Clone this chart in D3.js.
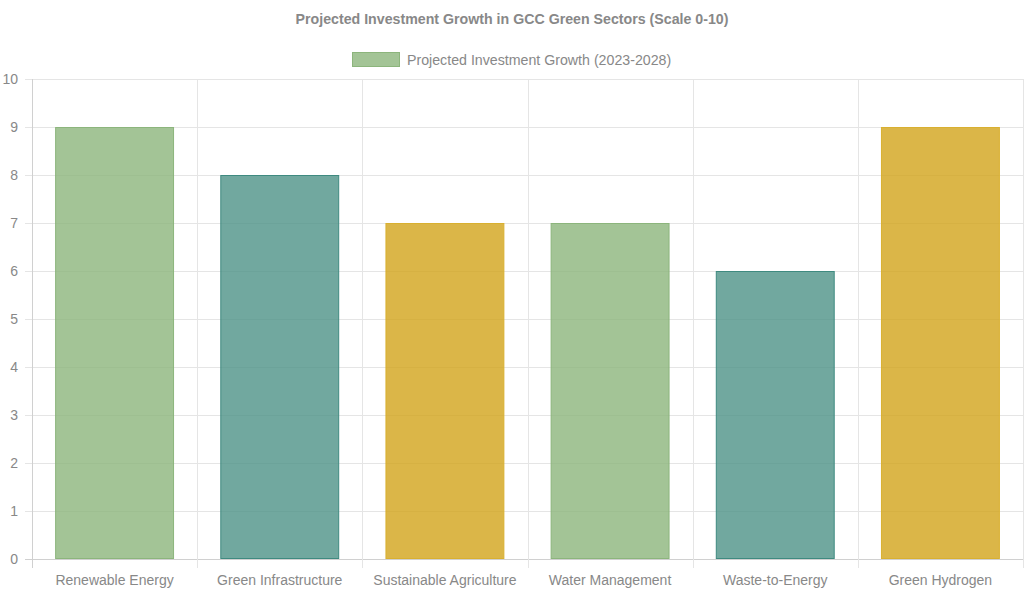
<!DOCTYPE html>
<html><head><meta charset="utf-8">
<script src="https://cdn.jsdelivr.net/npm/d3@7"></script>
<style>body{margin:0;background:#fff}svg{display:block}text{font-family:"Liberation Sans",Arial,Helvetica,sans-serif}</style>
</head><body>
<svg id="c" width="1024" height="593"></svg>
<script>
const categories = ["Renewable Energy","Green Infrastructure","Sustainable Agriculture","Water Management","Waste-to-Energy","Green Hydrogen"];
const values = [9, 8, 7, 7, 6, 9];
const fillColors = ["#8cb57c","#4d9287","#d2a41a","#8cb57c","#4d9287","#d2a41a"];
const borderColors = ["#8cb57c","#3f8a80","#d9b030","#8cb57c","#3f8a80","#d9b030"];
const yTicks = [0,1,2,3,4,5,6,7,8,9,10];
const title = "Projected Investment Growth in GCC Green Sectors (Scale 0-10)";
const legendLabel = "Projected Investment Growth (2023-2028)";

const svg = d3.select("#c");
const L = 32, R = 1023, T = 79, B = 559;
const x = d3.scaleBand().domain(categories).range([L, R]).paddingInner(0).paddingOuter(0);
const y = d3.scaleLinear().domain([0, 10]).range([B, T]);
const grid = "#e5e5e5";

// title
svg.append("text").attr("x", 512).attr("y", 24).attr("text-anchor", "middle")
  .attr("font-size", 14.2).attr("font-weight", "bold").attr("fill", "#888").text(title);

// legend
const lg = svg.append("g");
lg.append("rect").attr("x", 352.5).attr("y", 52.5).attr("width", 47).attr("height", 14)
  .attr("fill", fillColors[0]).attr("fill-opacity", 0.8).attr("stroke", borderColors[0]);
lg.append("text").attr("x", 407).attr("y", 64.5).attr("font-size", 14.2).attr("fill", "#888").text(legendLabel);

// horizontal grid + y ticks
const gy = svg.append("g");
yTicks.forEach(t => {
  gy.append("line").attr("x1", L - 7).attr("x2", R).attr("y1", Math.round(y(t)) + 0.5).attr("y2", Math.round(y(t)) + 0.5)
    .attr("stroke", t === 0 ? "#d0d0d0" : grid).attr("stroke-width", 1);
  gy.append("text").attr("x", 18).attr("y", y(t) + 5).attr("text-anchor", "end")
    .attr("font-size", 14).attr("fill", "#888").text(t);
});

// vertical grid lines
const bounds = categories.map(c => x(c)).concat([R]);
bounds.forEach((b, i) => {
  svg.append("line").attr("x1", Math.round(b) + 0.5).attr("x2", Math.round(b) + 0.5)
    .attr("y1", T).attr("y2", B + 9)
    .attr("stroke", i === 0 ? "#d0d0d0" : grid).attr("stroke-width", 1);
});

// bars
const bw = x.bandwidth() * 0.72;
svg.append("g").selectAll("rect").data(values).join("rect")
  .attr("x", (d, i) => x(categories[i]) + (x.bandwidth() - bw) / 2 + 0.5)
  .attr("y", d => y(d) + 0.5)
  .attr("width", bw - 1)
  .attr("height", d => y(0) - y(d) - 1)
  .attr("fill", (d, i) => fillColors[i]).attr("fill-opacity", 0.8)
  .attr("stroke", (d, i) => borderColors[i]).attr("stroke-width", 1);

// x labels
svg.append("g").selectAll("text").data(categories).join("text")
  .attr("x", d => x(d) + x.bandwidth() / 2).attr("y", 585)
  .attr("text-anchor", "middle").attr("font-size", 14).attr("fill", "#888").text(d => d);
</script>
</body></html>
